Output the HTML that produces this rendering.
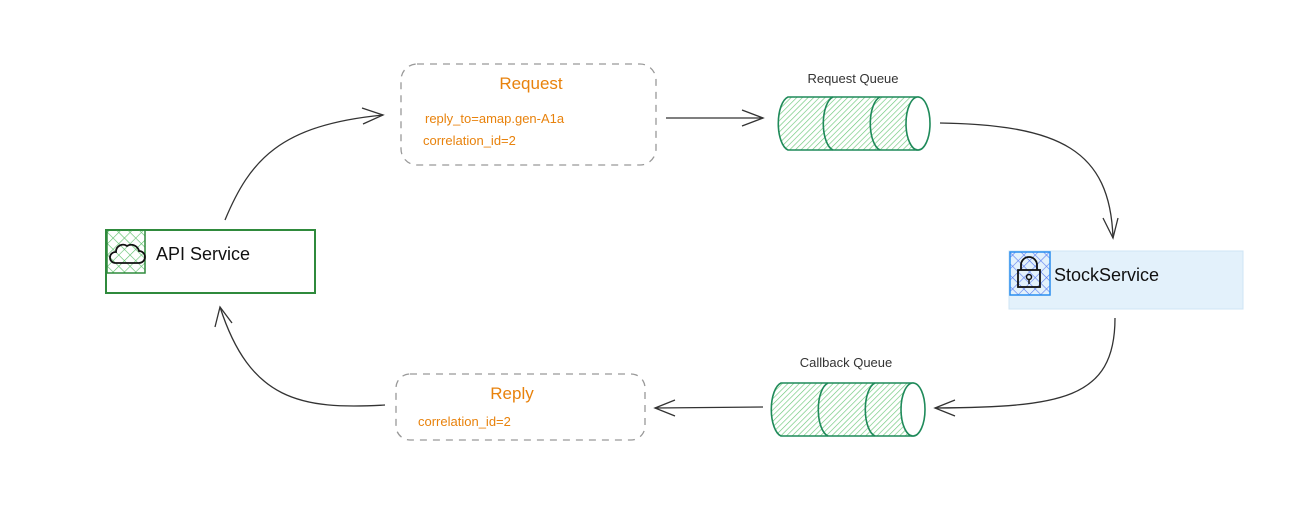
<!DOCTYPE html>
<html><head><style>body{margin:0;background:#fff}svg{display:block}text{font-family:"Liberation Sans",sans-serif}</style></head><body>
<svg width="1300" height="517" viewBox="0 0 1300 517" xmlns="http://www.w3.org/2000/svg">
<defs>
<pattern id="hg" width="4" height="4" patternUnits="userSpaceOnUse" patternTransform="rotate(45)"><line x1="0" y1="0" x2="0" y2="4" stroke="#6cc77a" stroke-width="1.3"/></pattern>
<pattern id="xg" width="8" height="8" patternUnits="userSpaceOnUse" patternTransform="rotate(45)"><path d="M0 0V8M0 0H8" stroke="#5cc06a" stroke-width="1.2"/></pattern>
<pattern id="xb" width="8" height="8" patternUnits="userSpaceOnUse" patternTransform="rotate(45)"><path d="M0 0V8M0 0H8" stroke="#5b7cf0" stroke-width="1.2"/></pattern>
</defs>
<g fill="none" stroke="#333" stroke-width="1.3">
<path d="M225 220 C250 160 280 125 383 115"/><path d="M362 108 L383 115 L363 124"/>
<path d="M666 118 L763 118"/><path d="M742 110 L763 118 L742 126"/>
<path d="M940 123 C1060 125 1110 150 1113 238"/><path d="M1103 218 L1113 238 L1118 218"/>
<path d="M1115 318 C1115 400 1060 407 935 408"/><path d="M955 400 L935 408 L955 416"/>
<path d="M763 407 L655 408"/><path d="M675 400 L655 408 L675 416"/>
<path d="M385 405 C300 410 250 400 220 307"/><path d="M215 327 L220 307 L232 323"/>
</g>
<rect x="106" y="230" width="209" height="63" fill="#fff" stroke="#2f8a3c" stroke-width="2"/>
<rect x="107" y="230" width="38" height="43" fill="url(#xg)" stroke="#2f8a3c" stroke-width="1.5"/>
<path d="M115 263 h24 a6 6 0 0 0 0-12 a8 8 0 0 0-12-5 a7 7 0 0 0-11 6 a5.5 5.5 0 0 0-1 11z" fill="none" stroke="#111" stroke-width="1.8"/>
<text x="156" y="260" font-size="18" fill="#111">API Service</text>
<rect x="1009" y="251" width="234" height="58" fill="#e3f1fb" stroke="#cfe5f5"/>
<rect x="1010" y="252" width="40" height="43" fill="url(#xb)" stroke="#2a8ef0" stroke-width="1.5"/>
<path d="M1021 270 v-5 a8 8 0 0 1 16 0 v5" fill="none" stroke="#111" stroke-width="1.8"/>
<rect x="1018" y="270" width="22" height="17" fill="none" stroke="#111" stroke-width="1.8"/>
<circle cx="1029" cy="277" r="2.5" fill="none" stroke="#111" stroke-width="1.5"/><line x1="1029" y1="279" x2="1029" y2="284" stroke="#111" stroke-width="1.5"/>
<text x="1054" y="281" font-size="18" fill="#111">StockService</text>
<rect x="401" y="64" width="255" height="101" rx="16" fill="none" stroke="#999" stroke-width="1.3" stroke-dasharray="7 6"/>
<text x="531" y="89" font-size="17" fill="#e8820c" text-anchor="middle">Request</text>
<text x="425" y="123" font-size="13" fill="#e8820c">reply_to=amap.gen-A1a</text>
<text x="423" y="145" font-size="13" fill="#e8820c">correlation_id=2</text>
<rect x="396" y="374" width="249" height="66" rx="14" fill="none" stroke="#999" stroke-width="1.3" stroke-dasharray="7 6"/>
<text x="512" y="399" font-size="17" fill="#e8820c" text-anchor="middle">Reply</text>
<text x="418" y="426" font-size="13" fill="#e8820c">correlation_id=2</text>
<text x="853" y="83" font-size="13" fill="#333" text-anchor="middle">Request Queue</text>
<g stroke="#1f8a5a" stroke-width="1.6">
<path d="M788 97 H918 V150 H788 a12 27 0 0 1 0-53z" fill="url(#hg)"/>
<path d="M833 97 a12 27 0 0 0 0 53 M880 97 a12 27 0 0 0 0 53" fill="none"/>
<ellipse cx="918" cy="123.5" rx="12" ry="26.5" fill="#fff"/>
</g>
<text x="846" y="367" font-size="13" fill="#333" text-anchor="middle">Callback Queue</text>
<g stroke="#1f8a5a" stroke-width="1.6">
<path d="M781 383 H913 V436 H781 a12 27 0 0 1 0-53z" fill="url(#hg)"/>
<path d="M828 383 a12 27 0 0 0 0 53 M875 383 a12 27 0 0 0 0 53" fill="none"/>
<ellipse cx="913" cy="409.5" rx="12" ry="26.5" fill="#fff"/>
</g>
</svg>
</body></html>
